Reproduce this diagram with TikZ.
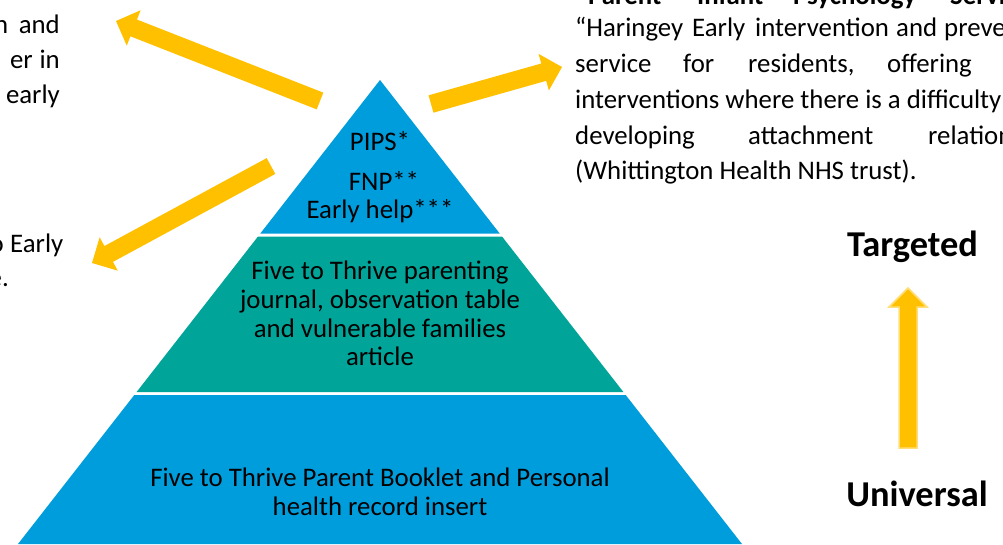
\documentclass[tikz,border=0pt]{standalone}
\usepackage{fontspec}
\setmainfont{Carlito}
\usetikzlibrary{calc}
\definecolor{pblue}{RGB}{0,157,220}
\definecolor{pteal}{RGB}{0,164,153}
\definecolor{pyellow}{RGB}{255,192,0}
\definecolor{plight}{RGB}{255,222,120}
\newcommand\blockarrow[3]{%
  \coordinate (hb) at ($(#2)!19pt!(#1)$);
  \path[#3] ($(#1)!9pt!90:(#2)$) -- ($(hb)!9pt!-90:(#1)$) -- ($(hb)!19pt!-90:(#1)$) -- (#2)
    -- ($(hb)!19pt!90:(#1)$) -- ($(hb)!9pt!90:(#1)$) -- ($(#1)!9pt!-90:(#2)$) -- cycle;}
\begin{document}
\begin{tikzpicture}[x=1pt,y=-1pt,
  txt/.style={inner sep=0pt, font=\fontsize{26.8}{35.5}\selectfont},
  txtb/.style={inner sep=0pt, font=\fontsize{26.8}{35.5}\selectfont\bfseries},
  big/.style={inner sep=0pt, font=\fontsize{36.4}{40}\selectfont\bfseries},
  yarrow/.style={fill=pyellow},
  varrow/.style={fill=pyellow, draw=plight, line width=1.5pt}]
\useasboundingbox (0,0) rectangle (1003,544);
% pyramid tiers
\fill[pblue] (380,80) -- (499.7,233.5) -- (260.3,233.5) -- cycle;
\fill[pteal] (258,236.5) -- (502,236.5) -- (623.4,392) -- (136.6,392) -- cycle;
\fill[pblue] (134.3,395) -- (625.7,395) -- (742,544) -- (18,544) -- cycle;
% arrows
\coordinate (a1t) at (320,101); \coordinate (a1h) at (116,21);
\coordinate (a2t) at (431,104); \coordinate (a2h) at (562,67);
\coordinate (a3t) at (271,166); \coordinate (a3h) at (92,263);
\coordinate (a4t) at (908,448); \coordinate (a4h) at (908,288);
\blockarrow{a1t}{a1h}{yarrow}
\blockarrow{a2t}{a2h}{yarrow}
\blockarrow{a3t}{a3h}{yarrow}
\blockarrow{a4t}{a4h}{varrow}
% top-left text
\node[txt, anchor=base east] (l1a) at (8.5,33) {n};
\node[txt, anchor=base east] (l1b) at (60,33) {and};
\node[txt, anchor=base east] (l2a) at (33,68) {er};
\node[txt, anchor=base east] (l2b) at (60,68) {in};
\node[txt, anchor=base east] (l3) at (60,103) {early};
% left middle text
\node[txt, anchor=base east] (m1a) at (4,252) {o};
\node[txt, anchor=base west] (m1b) at (10,252) {Early};
\node[txt, anchor=base east] (m2) at (9,286) {e.};
% right text
\node[txtb, anchor=base west] (r0a) at (588,4.5) {Parent};
\node[txtb, anchor=base west] (r0b) at (697,4.5) {Infant};
\node[txtb, anchor=base west] (r0c) at (793,4.5) {Psychology};
\node[txtb, anchor=base west] (r0d) at (950,4.5) {Service};
\node[txt, anchor=base west] (r1a) at (575,36.5) {“Haringey};
\node[txt, anchor=base west] (r1b) at (692,36.5) {Early};
\node[txt, anchor=base west] (r1c) at (755,36.5) {intervention};
\node[txt, anchor=base west] (r1d) at (896,36.5) {and};
\node[txt, anchor=base west] (r1e) at (944,36.5) {prevention};
\node[txt, anchor=base west] (r2a) at (575,72.5) {service};
\node[txt, anchor=base west] (r2b) at (683,72.5) {for};
\node[txt, anchor=base west] (r2c) at (748,72.5) {residents,};
\node[txt, anchor=base west] (r2d) at (887,72.5) {offering};
\node[txt, anchor=base west] (r3) at (575,108.5) {interventions where there is a difficulty};
\node[txt, anchor=base west] (r4a) at (575,144) {developing};
\node[txt, anchor=base west] (r4b) at (748,144) {attachment};
\node[txt, anchor=base west] (r4c) at (928,144) {relationships};
\node[txt, anchor=base west] (r5) at (575,179.5) {(Whittington Health NHS trust).};
% pyramid texts
\node[txt, anchor=base] (p1) at (380,150) {PIPS*};
\node[txt, anchor=base] (p2) at (384,190) {FNP**};
\node[txt, anchor=base] (p3) at (380,218) {Early help***};
\node[txt, anchor=base] (t1) at (380,279) {Five to Thrive parenting};
\node[txt, anchor=base] (t2) at (380,308) {journal, observation table};
\node[txt, anchor=base] (t3) at (380,337) {and vulnerable families};
\node[txt, anchor=base] (t4) at (380,365) {article};
\node[txt, anchor=base] (b1) at (380,486) {Five to Thrive Parent Booklet and Personal};
\node[txt, anchor=base] (b2) at (380,515) {health record insert};
% side labels
\node[big, anchor=base] (tg) at (912.5,256) {Targeted};
\node[big, anchor=base] (un) at (917,506) {Universal};
\end{tikzpicture}
\end{document}
